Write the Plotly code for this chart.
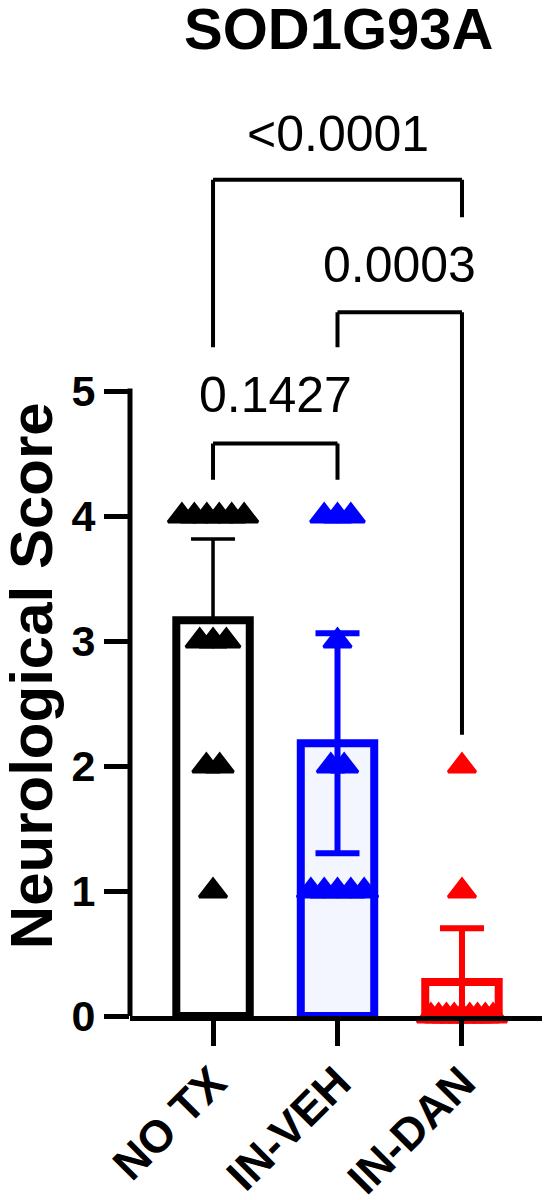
import plotly.graph_objects as go
import numpy as np

# ---- data ----
categories = ["NO TX", "IN-VEH", "IN-DAN"]
no_tx = [4, 4, 4, 4, 4, 4, 3, 3, 3, 2, 2, 1]
in_veh = [4, 4, 4, 3, 2, 2, 1, 1, 1, 1, 1]
in_dan = [2, 1, 0, 0, 0, 0, 0, 0, 0, 0, 0]
err_up = [0.65, 0.88, 0.43]
err_down = [0.0, 0.88, 0.43]
title_text = "SOD1G93A"
y_title = "Neurological Score"
y_ticks = [0, 1, 2, 3, 4, 5]

# significance comparisons: (group a, group b, p-text, bar height, leg a bottom, leg b bottom, text y)
comparisons = [
    (0, 1, "0.1427", 4.58, 4.29, 4.29, 4.97),
    (1, 2, "0.0003", 5.63, 5.35, 2.25, 6.01),
    (0, 2, "<0.0001", 6.69, 5.35, 6.39, 7.06),
]

groups = [no_tx, in_veh, in_dan]
line_colors = ["#000000", "#0000ff", "#ff0000"]
fill_colors = ["#ffffff", "#f4f6ff", "#ffffff"]
err_thick = [3.5, 6, 6]

FONT = "Arial, Liberation Sans, Helvetica, sans-serif"


def spread(vals):
    vals = np.asarray(vals)
    offs = np.zeros(len(vals))
    for v in np.unique(vals):
        idx = np.where(vals == v)[0]
        k = len(idx)
        if k > 1:
            step = min(0.107, 0.5 / (k - 1))
            offs[idx] = (np.arange(k) - (k - 1) / 2) * step
    return offs


fig = go.Figure()

for i, vals in enumerate(groups):
    fig.add_trace(go.Bar(
        x=[i], y=[float(np.mean(vals))], width=0.59,
        marker=dict(color=fill_colors[i], line=dict(color=line_colors[i], width=8)),
        error_y=dict(type="data", symmetric=False, array=[err_up[i]],
                     arrayminus=[err_down[i]], color=line_colors[i],
                     thickness=err_thick[i], width=22),
        showlegend=False, hoverinfo="skip",
    ))

for i, vals in enumerate(groups):
    fig.add_trace(go.Scatter(
        x=i + spread(vals), y=vals, mode="markers",
        marker=dict(symbol="triangle-up", size=24, color=line_colors[i],
                    line=dict(color=line_colors[i], width=3)),
        cliponaxis=False, showlegend=False, hoverinfo="skip",
    ))

shapes = []
annotations = []
for a, b, txt, h, la, lb, ty in comparisons:
    shapes.append(dict(type="line", xref="x", yref="y", x0=a, x1=a, y0=la, y1=h,
                       line=dict(color="black", width=4)))
    shapes.append(dict(type="line", xref="x", yref="y", x0=a, x1=b, y0=h, y1=h,
                       line=dict(color="black", width=4)))
    shapes.append(dict(type="line", xref="x", yref="y", x0=b, x1=b, y0=lb, y1=h,
                       line=dict(color="black", width=4)))
    annotations.append(dict(text=txt, xref="x", yref="y", x=(a + b) / 2, y=ty,
                            showarrow=False, xanchor="center", yanchor="middle",
                            font=dict(family=FONT, size=50, color="black")))

# y axis line only from 0 to 5
shapes.append(dict(type="line", xref="paper", yref="y", x0=0, x1=0, y0=0, y1=5.02,
                   line=dict(color="black", width=5)))

annotations.append(dict(text=title_text, xref="paper", yref="paper", x=0.499, y=1.0786,
                        showarrow=False, xanchor="center", yanchor="middle",
                        font=dict(family=FONT, size=58, color="black", weight="bold")))
annotations.append(dict(text=y_title, xref="paper", yref="y", x=-0.237, y=2.72,
                        textangle=-90, showarrow=False, xanchor="center", yanchor="middle",
                        font=dict(family=FONT, size=60, color="black", weight="bold")))

# page body has an 8px margin: figure is 542x1192 placed at (8, 8)
fig.update_layout(
    width=542, height=1192,
    margin=dict(l=122, r=3, t=92, b=184, autoexpand=False),
    paper_bgcolor="white", plot_bgcolor="white",
    barmode="overlay",
    shapes=shapes, annotations=annotations,
    xaxis=dict(range=[-0.667, 2.683], tickvals=[0, 1, 2], ticktext=categories,
               showline=True, linewidth=5, linecolor="black",
               ticks="outside", ticklen=25, tickwidth=5, tickcolor="black",
               tickangle=-45, showgrid=False, zeroline=False, automargin=False,
               ticklabelstandoff=-8,
               tickfont=dict(family=FONT, size=45, color="black", weight="bold")),
    yaxis=dict(range=[0, 7.328], tickvals=y_ticks, automargin=False,
               showline=False, ticks="outside", ticklen=25, tickwidth=5, tickcolor="black",
               showgrid=False, zeroline=False,
               tickfont=dict(family=FONT, size=43, color="black", weight="bold")),
)

fig.write_html("out.html")
